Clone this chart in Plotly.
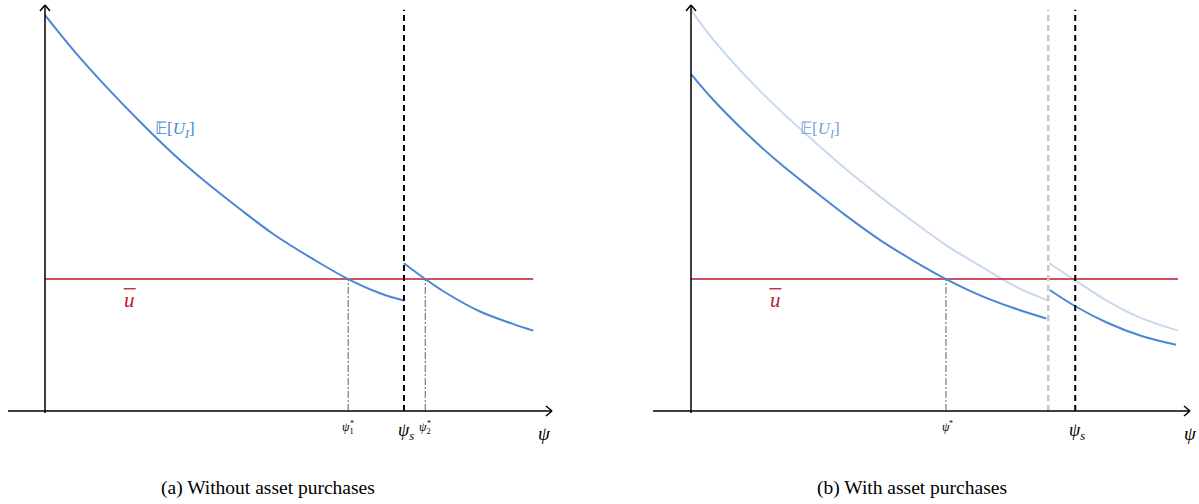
import plotly.graph_objects as go

# ---------------- data (panel a) ----------------
a_psi_low = [0.0, 0.56, 1.22, 1.87, 2.53, 3.19, 3.85, 4.50, 5.29, 5.98, 6.61, 7.08]
a_eu_low = [9.75, 8.89, 7.97, 7.13, 6.33, 5.62, 4.97, 4.36, 3.74, 3.25, 2.90, 2.72]
a_psi_high = [7.08, 7.50, 7.92, 8.58, 9.24, 9.63]
a_eu_high = [3.64, 3.25, 2.90, 2.45, 2.14, 1.98]
a_ubar = 3.25
a_psi_s = 7.08
a_psi1 = 5.98
a_psi2 = 7.50
a_ubar_end = 9.63

# ---------------- data (panel b) ----------------
b_psi_low = [0.0, 0.45, 1.11, 1.78, 2.45, 3.12, 3.79, 4.46, 5.11, 5.83, 6.48, 7.12]
b_eu_low = [8.30, 7.66, 6.84, 6.10, 5.44, 4.80, 4.21, 3.70, 3.25, 2.83, 2.53, 2.28]
b_psi_high = [7.19, 7.70, 8.33, 9.00, 9.72]
b_eu_high = [2.98, 2.58, 2.18, 1.86, 1.63]
b_old_psi_low = [0.0, 0.45, 1.11, 1.78, 2.45, 3.12, 3.79, 4.46, 5.14, 5.83, 6.48, 7.16]
b_old_eu_low = [9.88, 9.14, 8.23, 7.41, 6.66, 5.94, 5.28, 4.66, 4.06, 3.55, 3.08, 2.72]
b_old_psi_high = [7.18, 7.66, 8.33, 9.00, 9.76]
b_old_eu_high = [3.64, 3.25, 2.72, 2.30, 1.98]
b_ubar = 3.25
b_psi_s = 7.70
b_psi_s_old = 7.16
b_psi_star = 5.11
b_ubar_end = 9.76

axis_x_end = 10.0
axis_y_end = 10.0
vline_top = 9.88

BLUE = "rgb(74,134,212)"
LIGHT = "rgb(200,217,239)"
LABEL_LIGHT = "rgb(115,160,220)"
RED = "rgb(190,25,45)"
GRAY = "rgb(95,95,95)"
FONT = "Liberation Serif"

W, H = 1199, 504
fig = go.Figure()

def add(x, y, xa, color, width, dash=None, spline=True):
    fig.add_trace(go.Scatter(
        x=x, y=y, mode="lines", xaxis=xa, yaxis="y" if xa == "x" else "y2",
        line=dict(color=color, width=width, dash=dash,
                  shape="spline" if spline else "linear", smoothing=1.0),
        hoverinfo="skip", showlegend=False))

# panel a
add([0, a_ubar_end], [a_ubar, a_ubar], "x", RED, 1.6, spline=False)
add(a_psi_low, a_eu_low, "x", BLUE, 2)
add(a_psi_high, a_eu_high, "x", BLUE, 2)
add([a_psi1, a_psi1], [0, a_ubar], "x", GRAY, 1, "7px,2px,2px,2px", False)
add([a_psi2, a_psi2], [0, a_ubar], "x", GRAY, 1, "7px,2px,2px,2px", False)
add([a_psi_s, a_psi_s], [0, vline_top], "x", "black", 2, "6px,4px", False)

# panel b
add(b_old_psi_low, b_old_eu_low, "x2", LIGHT, 2)
add(b_old_psi_high, b_old_eu_high, "x2", LIGHT, 2)
add([0, b_ubar_end], [b_ubar, b_ubar], "x2", RED, 1.6, spline=False)
add(b_psi_low, b_eu_low, "x2", BLUE, 2)
add(b_psi_high, b_eu_high, "x2", BLUE, 2)
add([b_psi_star, b_psi_star], [0, b_ubar], "x2", GRAY, 1, "7px,2px,2px,2px", False)
add([b_psi_s_old, b_psi_s_old], [0, vline_top], "x2", "rgb(200,200,200)", 2.5, "6px,4px", False)
add([b_psi_s, b_psi_s], [0, vline_top], "x2", "black", 2, "6px,4px", False)

# axis geometry (pixel anchors)
y0_px, y10_px = 411, 5
ppu_y = (y0_px - y10_px) / 10.0
yr = [-(H - y0_px) / ppu_y, y0_px / ppu_y]

def xrange_for(dom, origin_px, ten_px):
    ppu = (ten_px - origin_px) / 10.0
    left = dom[0] * W
    right = dom[1] * W
    return [(left - origin_px) / ppu, (right - origin_px) / ppu]

dom_a = [0.0, 0.5]
dom_b = [0.5, 1.0]
xr_a = xrange_for(dom_a, 45, 552)
xr_b = xrange_for(dom_b, 691, 1190)

ax_common = dict(showgrid=False, zeroline=False, showticklabels=False, ticks="",
                 showline=False, fixedrange=True)
fig.update_layout(
    width=W, height=H, margin=dict(l=0, r=0, t=0, b=0),
    plot_bgcolor="white", paper_bgcolor="white",
    xaxis=dict(domain=dom_a, range=xr_a, anchor="y", **ax_common),
    xaxis2=dict(domain=dom_b, range=xr_b, anchor="y2", **ax_common),
    yaxis=dict(domain=[0, 1], range=yr, anchor="x", **ax_common),
    yaxis2=dict(domain=[0, 1], range=yr, anchor="x2", **ax_common),
)

shapes = []
anns = []
for xa, ya, xstart in (("x", "y", -0.73), ("x2", "y2", -0.76)):
    shapes.append(dict(type="line", xref=xa, yref=ya, x0=xstart, x1=axis_x_end, y0=0, y1=0,
                       line=dict(color="black", width=1.5)))
    shapes.append(dict(type="line", xref=xa, yref=ya, x0=0, x1=0, y0=-0.05, y1=axis_y_end,
                       line=dict(color="black", width=1.5)))
    for dy in (-5, 5):
        shapes.append(dict(type="line", xref=xa, yref=ya, xsizemode="pixel", ysizemode="pixel",
                           xanchor=axis_x_end, yanchor=0, x0=-6, x1=0, y0=dy, y1=0,
                           line=dict(color="black", width=1.5)))
    for dx in (-5, 5):
        shapes.append(dict(type="line", xref=xa, yref=ya, xsizemode="pixel", ysizemode="pixel",
                           xanchor=0, yanchor=axis_y_end, x0=dx, x1=0, y0=-6, y1=0,
                           line=dict(color="black", width=1.5)))

def txt(xa, ya, x, y, text, size, color="black", xshift=0, yshift=0):
    anns.append(dict(xref=xa, yref=ya, x=x, y=y, text=text, showarrow=False,
                     xanchor="center", yanchor="middle",
                     font=dict(family=FONT, size=size, color=color), xshift=xshift, yshift=yshift))

# labels panel a
txt("x", "y", axis_x_end, 0, "<i>ψ</i>", 19, yshift=-22, xshift=-8)
txt("x", "y", a_psi1, 0, "<i>ψ</i><sub>1</sub>", 12, yshift=-17)
txt("x", "y", a_psi1, 0, "*", 8, yshift=-12, xshift=4)
txt("x", "y", a_psi2, 0, "<i>ψ</i><sub>2</sub>", 12, yshift=-17)
txt("x", "y", a_psi2, 0, "*", 8, yshift=-12, xshift=4)
txt("x", "y", a_psi_s, 0, "<i>ψ</i><sub><i>s</i></sub>", 18, yshift=-20, xshift=2)
txt("x", "y", 2.56, 6.92, "𝔼[<i>U</i><sub><i>I</i></sub>]", 17, BLUE)
txt("x", "y", 1.67, 2.74, "<i>u</i>", 21, RED)
# labels panel b
txt("x2", "y2", b_psi_star, 0, "<i>ψ</i>", 12, yshift=-16)
txt("x2", "y2", b_psi_star, 0, "*", 8, yshift=-12, xshift=5)
txt("x2", "y2", b_psi_s, 0, "<i>ψ</i><sub><i>s</i></sub>", 18, yshift=-20, xshift=2)
txt("x2", "y2", axis_x_end, 0, "<i>ψ</i>", 19, yshift=-22, xshift=0)
txt("x2", "y2", 2.58, 6.92, "𝔼[<i>U</i><sub><i>I</i></sub>]", 17, LABEL_LIGHT)
txt("x2", "y2", 1.69, 2.74, "<i>u</i>", 21, RED)
for xa, ya, xc in (("x", "y", 1.67), ("x2", "y2", 1.69)):
    shapes.append(dict(type="line", xref=xa, yref=ya, xsizemode="pixel", ysizemode="pixel",
                       xanchor=xc, yanchor=2.74, x0=-6, x1=6, y0=11, y1=11,
                       line=dict(color=RED, width=1.3)))

anns.append(dict(xref="paper", yref="paper", x=268 / W, y=1 - 488 / H, xanchor="center",
                 yanchor="middle", text="(a) Without asset purchases", showarrow=False,
                 font=dict(family=FONT, size=19.5, color="black")))
anns.append(dict(xref="paper", yref="paper", x=912 / W, y=1 - 488 / H, xanchor="center",
                 yanchor="middle", text="(b) With asset purchases", showarrow=False,
                 font=dict(family=FONT, size=19.5, color="black")))

fig.update_layout(shapes=shapes, annotations=anns)
fig.write_html("out.html", config={"displayModeBar": False},
               post_script="document.body.style.margin='0';document.body.style.overflow='hidden';")
